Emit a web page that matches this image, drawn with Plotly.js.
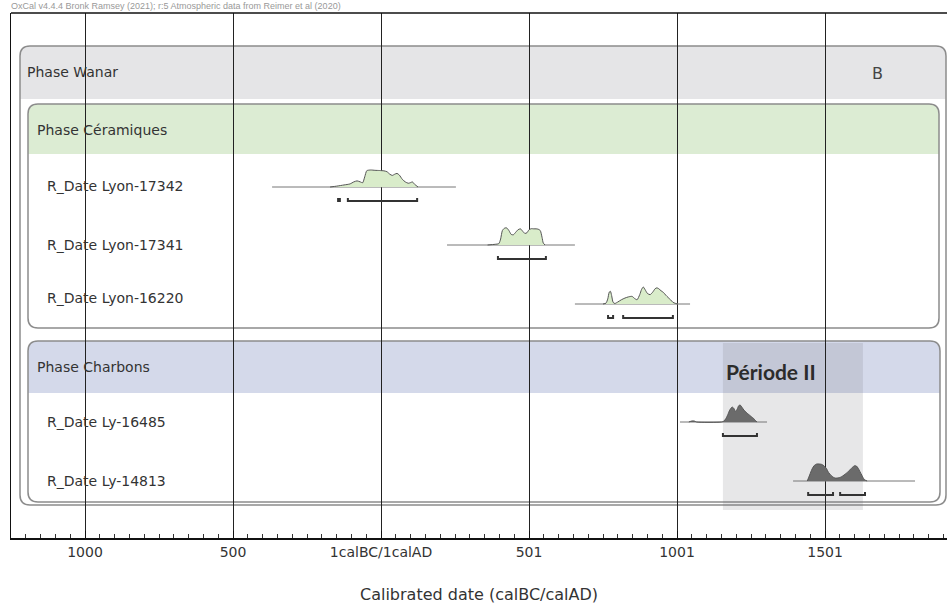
<!DOCTYPE html>
<html>
<head>
<meta charset="utf-8">
<script src="https://cdn.plot.ly/plotly-3.0.1.min.js"></script>
<style>html,body{margin:0;padding:0;background:#fff;}#chart{width:947px;height:605px;}</style>
</head>
<body>
<div id="chart"></div>
<script>
// ---------------- DATA ----------------
const dateNames = ["R_Date Lyon-17342", "R_Date Lyon-17341", "R_Date Lyon-16220", "R_Date Ly-16485", "R_Date Ly-14813"];
const phaseNames = ["Phase Wanar", "Phase Céramiques", "Phase Charbons"];
const tickValues = [-1000, -500, 0, 500, 1000, 1500];
const tickLabels = ["1000", "500", "1calBC/1calAD", "501", "1001", "1501"];

// calibrated probability densities (year, relative probability)
const d1x = [-172,-150,-125,-105,-92,-81,-70,-62,-55,-48,-35,-20,-5,10,20,30,38,46,54,62,72,82,92,100,106,114,125];
const d1y = [0,0.05,0.12,0.18,0.3,0.36,0.3,0.25,0.6,0.96,1.0,0.98,0.97,0.95,0.9,0.75,0.68,0.75,0.8,0.7,0.45,0.3,0.22,0.26,0.3,0.15,0];
const d2x = [360,385,398,404,410,418,425,432,440,447,455,463,471,479,486,493,500,508,516,524,531,538,544,548,554];
const d2y = [0,0.04,0.08,0.35,0.85,1.0,1.0,0.85,0.62,0.6,0.75,0.9,0.95,0.8,0.68,0.72,0.9,0.96,0.95,0.95,0.93,0.85,0.45,0.12,0];
const d3x = [750,760,766,771,775,779,784,790,800,812,824,836,848,857,865,874,880,886,892,900,909,918,926,932,938,946,954,962,970,978,986,994,1003];
const d3y = [0,0.05,0.3,0.7,0.75,0.5,0.1,0.03,0.12,0.25,0.35,0.42,0.45,0.32,0.25,0.55,0.85,1.0,0.85,0.62,0.55,0.7,0.9,0.95,0.9,0.78,0.68,0.52,0.38,0.25,0.1,0.04,0];
const d4x = [1040,1050,1058,1066,1150,1158,1165,1172,1178,1186,1192,1197,1203,1208,1213,1220,1226,1232,1238,1245,1252,1258,1264,1270];
const d4y = [0,0.06,0.06,0,0,0.05,0.2,0.45,0.7,0.88,0.8,0.62,0.75,0.95,1.0,0.85,0.7,0.6,0.5,0.4,0.3,0.22,0.1,0];
const d5x = [1440,1448,1456,1464,1472,1480,1488,1496,1504,1512,1520,1528,1536,1544,1552,1560,1568,1576,1584,1592,1600,1606,1612,1618,1624,1630,1636,1642];
const d5y = [0,0.35,0.7,0.92,1.0,1.0,0.98,0.9,0.75,0.5,0.33,0.22,0.17,0.18,0.22,0.3,0.4,0.52,0.65,0.8,0.9,0.88,0.75,0.55,0.35,0.15,0.05,0];

// extent of the likelihood baseline for each date
const baseStart = [-368, 223, 655, 1010, 1392];
const baseEnd = [253, 655, 1044, 1304, 1804];

// 95.4% probability ranges
const r1 = [[-145,-139],[-112,122]];
const r2 = [[395,557]];
const r3 = [[767,784],[818,986]];
const r4 = [[1155,1270]];
const r5 = [[1443,1527],[1551,1635]];

const periodLabel = "Période II";
const periodStart = 1155, periodEnd = 1628;

// ---------------- LAYOUT HELPERS ----------------
const densX = [d1x,d2x,d3x,d4x,d5x];
const densY = [d1y,d2y,d3y,d4y,d5y];
const ranges = [r1,r2,r3,r4,r5];
const rowBase = [174, 232, 291, 409, 468];   // baseline (plot px from top)
const rowLabelY = [173, 232, 285, 409, 468];
const fills = ["#d9ecca","#d9ecca","#d9ecca","#6b6b6b","#6b6b6b"];
const H = 17;
const XMIN = -1250, XMAX = 1912, PLOTW = 936;
const k = PLOTW / (XMAX - XMIN);            // px per year
const px2x = p => (p - 11) / k + XMIN;

function roundRect(x0p, x1p, y0, y1, r, topOnly) {
  const x0 = px2x(x0p), x1 = px2x(x1p), rx = r / k;
  let p = `M ${x0} ${y0 + r} Q ${x0} ${y0} ${x0 + rx} ${y0} L ${x1 - rx} ${y0} Q ${x1} ${y0} ${x1} ${y0 + r} `;
  if (topOnly) {
    p += `L ${x1} ${y1} L ${x0} ${y1} Z`;
  } else {
    p += `L ${x1} ${y1 - r} Q ${x1} ${y1} ${x1 - rx} ${y1} L ${x0 + rx} ${y1} Q ${x0} ${y1} ${x0} ${y1 - r} Z`;
  }
  return p;
}

const traces = [];
for (let i = 0; i < dateNames.length; i++) {
  const b = rowBase[i];
  traces.push({x: [baseStart[i], baseEnd[i]], y: [b, b], mode: "lines", type: "scatter",
    line: {color: "#777", width: 1}, hoverinfo: "skip", showlegend: false});
  traces.push({x: densX[i], y: densY[i].map(v => b - v * H), mode: "lines", type: "scatter",
    fill: "toself", fillcolor: fills[i], line: {color: "#555", width: 1, shape: "spline", smoothing: 0.6},
    hoverinfo: "skip", showlegend: false});
  const bx = [], by = [];
  const yb = b + 14;
  ranges[i].forEach(([a, c]) => { bx.push(a, a, c, c, null); by.push(yb - 3, yb, yb, yb - 3, null); });
  traces.push({x: bx, y: by, mode: "lines", type: "scatter", line: {color: "#333", width: 2},
    hoverinfo: "skip", showlegend: false});
}

const shapes = [
  {type: "path", path: roundRect(20, 946, 33, 86, 10, true), fillcolor: "#e5e5e7", line: {width: 0}, layer: "below"},
  {type: "path", path: roundRect(20, 946, 33, 492, 10, false), fillcolor: "rgba(0,0,0,0)", line: {color: "#8c8c8c", width: 1.5}, layer: "below"},
  {type: "path", path: roundRect(28, 939, 91, 141, 10, true), fillcolor: "#dcecd3", line: {width: 0}, layer: "below"},
  {type: "path", path: roundRect(28, 939, 91, 315, 10, false), fillcolor: "rgba(0,0,0,0)", line: {color: "#8c8c8c", width: 1.5}, layer: "below"},
  {type: "path", path: roundRect(28, 940, 328, 380, 10, true), fillcolor: "#d4d9ea", line: {width: 0}, layer: "below"},
  {type: "path", path: roundRect(28, 940, 328, 489, 10, false), fillcolor: "rgba(0,0,0,0)", line: {color: "#8c8c8c", width: 1.5}, layer: "below"},
  {type: "rect", x0: periodStart, x1: periodEnd, y0: 330, y1: 497, fillcolor: "rgba(110,110,120,0.17)", line: {width: 0}, layer: "below"},
  {type: "line", xref: "paper", yref: "paper", x0: 0, x1: 1, y0: 1, y1: 1, line: {color: "#111", width: 1.5}}
];

const FAM = "DejaVu Sans, Liberation Sans, Arial, sans-serif";
const lbl = {family: FAM, size: 14, color: "#333"};
const annotations = [
  {xref: "paper", yref: "paper", x: -0.002, y: 1 + 7 / 525, xanchor: "left", yanchor: "middle", showarrow: false,
   text: "OxCal v4.4.4 Bronk Ramsey (2021); r:5 Atmospheric data from Reimer et al (2020)",
   font: {family: "Liberation Sans, Arial, sans-serif", size: 9, color: "#999"}},
  {x: px2x(25), y: 59, xanchor: "left", yanchor: "middle", showarrow: false, text: phaseNames[0], font: lbl},
  {x: px2x(35), y: 117, xanchor: "left", yanchor: "middle", showarrow: false, text: phaseNames[1], font: lbl},
  {x: px2x(35), y: 354, xanchor: "left", yanchor: "middle", showarrow: false, text: phaseNames[2], font: lbl},
  {x: px2x(877), y: 60, xanchor: "center", yanchor: "middle", showarrow: false, text: "B",
   font: {family: FAM, size: 16, color: "#444"}},
  {x: px2x(771), y: 358, xanchor: "center", yanchor: "middle", showarrow: false,
   text: "<b>" + periodLabel + "</b>", font: {family: "Lato, sans-serif", size: 21, color: "#2c2c2c"}}
];
dateNames.forEach((n, i) => annotations.push({x: px2x(45), y: rowLabelY[i], xanchor: "left", yanchor: "middle",
  showarrow: false, text: n, font: lbl}));

const layout = {
  width: 947, height: 605,
  margin: {l: 11, r: 0, t: 13, b: 67},
  paper_bgcolor: "#fff", plot_bgcolor: "#fff",
  showlegend: false,
  xaxis: {
    range: [XMIN, XMAX], tickmode: "array", tickvals: tickValues, ticktext: tickLabels,
    ticks: "inside", ticklen: 7, tickcolor: "#111", tickwidth: 1,
    showgrid: true, gridcolor: "#222", gridwidth: 1, zeroline: false,
    showline: true, linecolor: "#111", linewidth: 2,
    minor: {tickmode: "linear", tick0: 0, dtick: 50, ticks: "inside", ticklen: 4, tickcolor: "#333", showgrid: false},
    tickfont: {family: FAM, size: 14, color: "#333"},
    title: {text: "Calibrated date (calBC/calAD)", standoff: 30,
      font: {family: FAM, size: 16, color: "#333"}},
    fixedrange: true
  },
  yaxis: {
    range: [525, 0], showgrid: false, zeroline: false, showticklabels: false, ticks: "",
    showline: true, linecolor: "#111", linewidth: 1.5, fixedrange: true
  },
  shapes: shapes,
  annotations: annotations
};

Plotly.newPlot("chart", traces, layout, {displayModeBar: false, staticPlot: true});
</script>
</body>
</html>
